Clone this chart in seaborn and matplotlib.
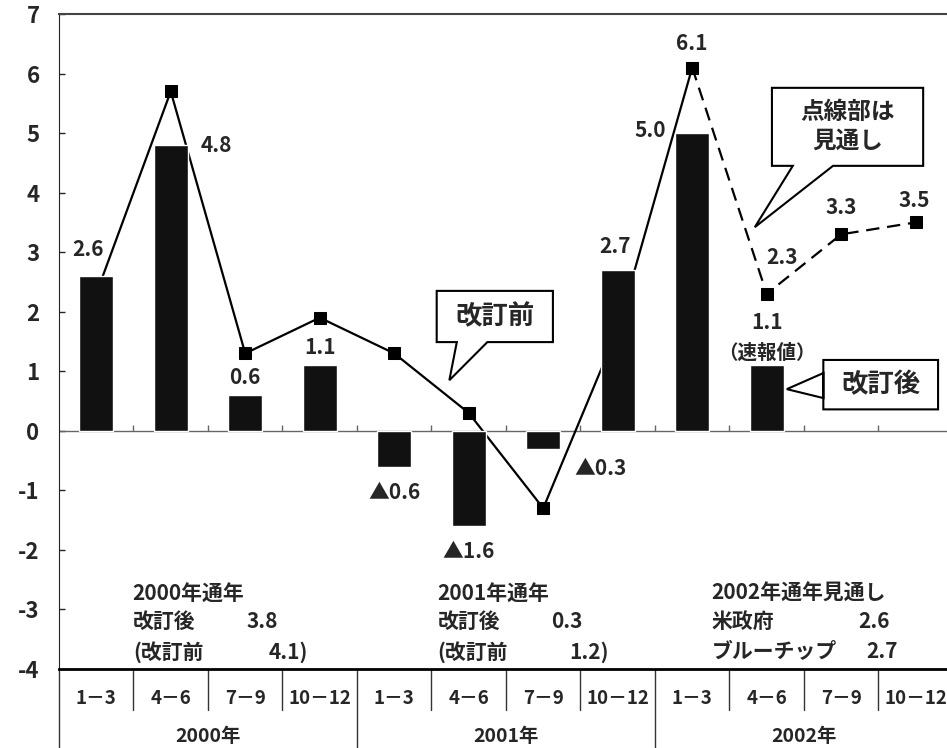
import seaborn as sns
import matplotlib.pyplot as plt
import numpy as np
from matplotlib.patches import Polygon

sns.set_style("white")
plt.rcParams['font.family'] = ['Noto Sans CJK JP', 'DejaVu Sans']
plt.rcParams['font.weight'] = 'bold'
plt.rcParams['axes.unicode_minus'] = False

# 四半期（2000年1-3月 ～ 2002年10-12月）
quarters = ["1－3", "4－6", "7－9", "10－12"] * 3
years = ["2000年", "2001年", "2002年"]
q_pos = np.arange(12)

# 改訂後（棒）
after_vals = [2.6, 4.8, 0.6, 1.1, -0.6, -1.6, -0.3, 2.7, 5.0, 1.1]
after_labels = ["2.6", "4.8", "0.6", "1.1", "▲0.6", "▲1.6", "▲0.3", "2.7", "5.0", "1.1"]
# 改訂前（実線）
before_vals = [2.3, 5.7, 1.3, 1.9, 1.3, 0.3, -1.3, 1.7, 6.1]
# 見通し（点線）
outlook_vals = [6.1, 2.3, 3.3, 3.5]
outlook_labels = ["6.1", "2.3", "3.3", "3.5"]

fig = plt.figure(figsize=(9.47, 7.48), dpi=100)
ax = fig.add_axes([59/947, 79/748, 888/947, 655/748])

sns.barplot(x=q_pos[:10], y=after_vals, native_scale=True, orient="x", width=0.46,
            color="#111111", saturation=1, errorbar=None, ax=ax, zorder=3)
sns.lineplot(x=q_pos[:9], y=before_vals, color="black", marker="s", markersize=8,
             mec="black", lw=1.6, ax=ax, zorder=2)
sns.lineplot(x=q_pos[8:], y=outlook_vals, color="black", marker="s", markersize=8,
             mec="black", lw=1.6, linestyle=(0, (6, 3.5)), ax=ax, zorder=2)

ax.set_xlim(-0.5, 11.42)
ax.set_ylim(-4, 7)
ax.set_yticks(range(-4, 8))
ax.set_xticks([])
ax.tick_params(axis="y", direction="in", length=4, width=1, labelsize=16, pad=14, left=True)
ax.spines["right"].set_visible(False)
ax.spines["top"].set_color("#444444")
ax.spines["top"].set_linewidth(1.5)
ax.spines["left"].set_color("#222222")
ax.spines["bottom"].set_color("black")
ax.spines["bottom"].set_linewidth(2)

# ゼロ線と目盛り
ax.axhline(0, color="#666666", lw=1, zorder=1)
bounds = np.arange(12) + 0.5
ax.vlines(bounds[:-1], 0, 0.1, color="#666666", lw=1, zorder=1)

# 棒のラベル
bar_offsets = [(-6, 19), (33, 0), (0, 13), (0, 13), (0, -19), (0, -18), (41, -14),
               (-2, 17), (-30, 2), (0, 31)]
for x, v, lab, off in zip(q_pos, after_vals, after_labels, bar_offsets):
    ax.annotate(lab, (x, v), xytext=off, textcoords="offset points",
                ha="center", va="center", fontsize=15)
ax.annotate("（速報値）", (9, 1.1), xytext=(0, 9), textcoords="offset points",
            ha="center", va="center", fontsize=14)

# 見通しのラベル
line_offsets = [(0, 17), (11, 26), (0, 19), (-1, 16)]
for x, v, lab, off in zip(q_pos[8:], outlook_vals, outlook_labels, line_offsets):
    ax.annotate(lab, (x, v), xytext=off, textcoords="offset points",
                ha="center", va="center", fontsize=15)


# 吹き出し
def callout(text, x0, x1, y0, y1, tip, side, b0, b1, size=18):
    if side == "bottom":
        pts = [(x0, y1), (x1, y1), (x1, y0), (b1, y0), tip, (b0, y0), (x0, y0)]
    else:  # left
        pts = [(x0, y1), (x1, y1), (x1, y0), (x0, y0), (x0, b1), tip, (x0, b0)]
    ax.add_patch(Polygon(pts, closed=True, fc="white", ec="black", lw=1.5,
                         zorder=5, joinstyle="miter"))
    ax.text((x0 + x1) / 2, (y0 + y1) / 2, text, ha="center", va="center",
            fontsize=size, linespacing=1.25, zorder=6)


callout("改訂前", 4.57, 6.13, 1.49, 2.35, (4.74, 0.85), "bottom", 4.84, 5.25, 19)
callout("点線部は\n見通し", 9.07, 11.10, 4.45, 5.76, (8.84, 3.42), "bottom", 9.35, 9.89, 17)
callout("改訂後", 9.76, 11.30, 0.36, 1.19, (9.27, 0.70), "left", 0.55, 0.97, 19)

# 年間の注記
notes = [
    (0.49, 2.44, 2.84, ["2000年通年", "改訂後", "(改訂前"], ["", "3.8", "4.1)"]),
    (4.58, 6.53, 6.88, ["2001年通年", "改訂後", "(改訂前"], ["", "0.3", "1.2)"]),
    (8.26, 10.65, 10.76, ["2002年通年見通し", "米政府", "ブルーチップ"], ["", "2.6", "2.7"]),
]
rows_y = [-2.73, -3.20, -3.71]
for x0, xr1, xr2, left, right in notes:
    for y, t in zip(rows_y, left):
        ax.text(x0, y, t, ha="left", va="center", fontsize=15)
    ax.text(xr1, rows_y[1], right[1], ha="right", va="center", fontsize=15)
    ax.text(xr2, rows_y[2], right[2], ha="right", va="center", fontsize=15)

# 下の表（四半期・年）
tr = ax.get_xaxis_transform()
for b in bounds[:-1]:
    long = b in (3.5, 7.5)
    ax.plot([b, b], [0, -0.1206 if long else -0.0626], transform=tr, clip_on=False,
            color="#333333", lw=1)
ax.plot([-0.5, -0.5], [0, -0.1206], transform=tr, clip_on=False, color="#333333", lw=1)
for x, q in zip(q_pos, quarters):
    ax.text(x, -0.0458, q, transform=tr, ha="center", va="center", fontsize=13.5)
for i, yl in enumerate(years):
    ax.text(4 * i + 1.5, -0.1038, yl, transform=tr, ha="center", va="center", fontsize=14)

fig.savefig("out.png", dpi=100)
